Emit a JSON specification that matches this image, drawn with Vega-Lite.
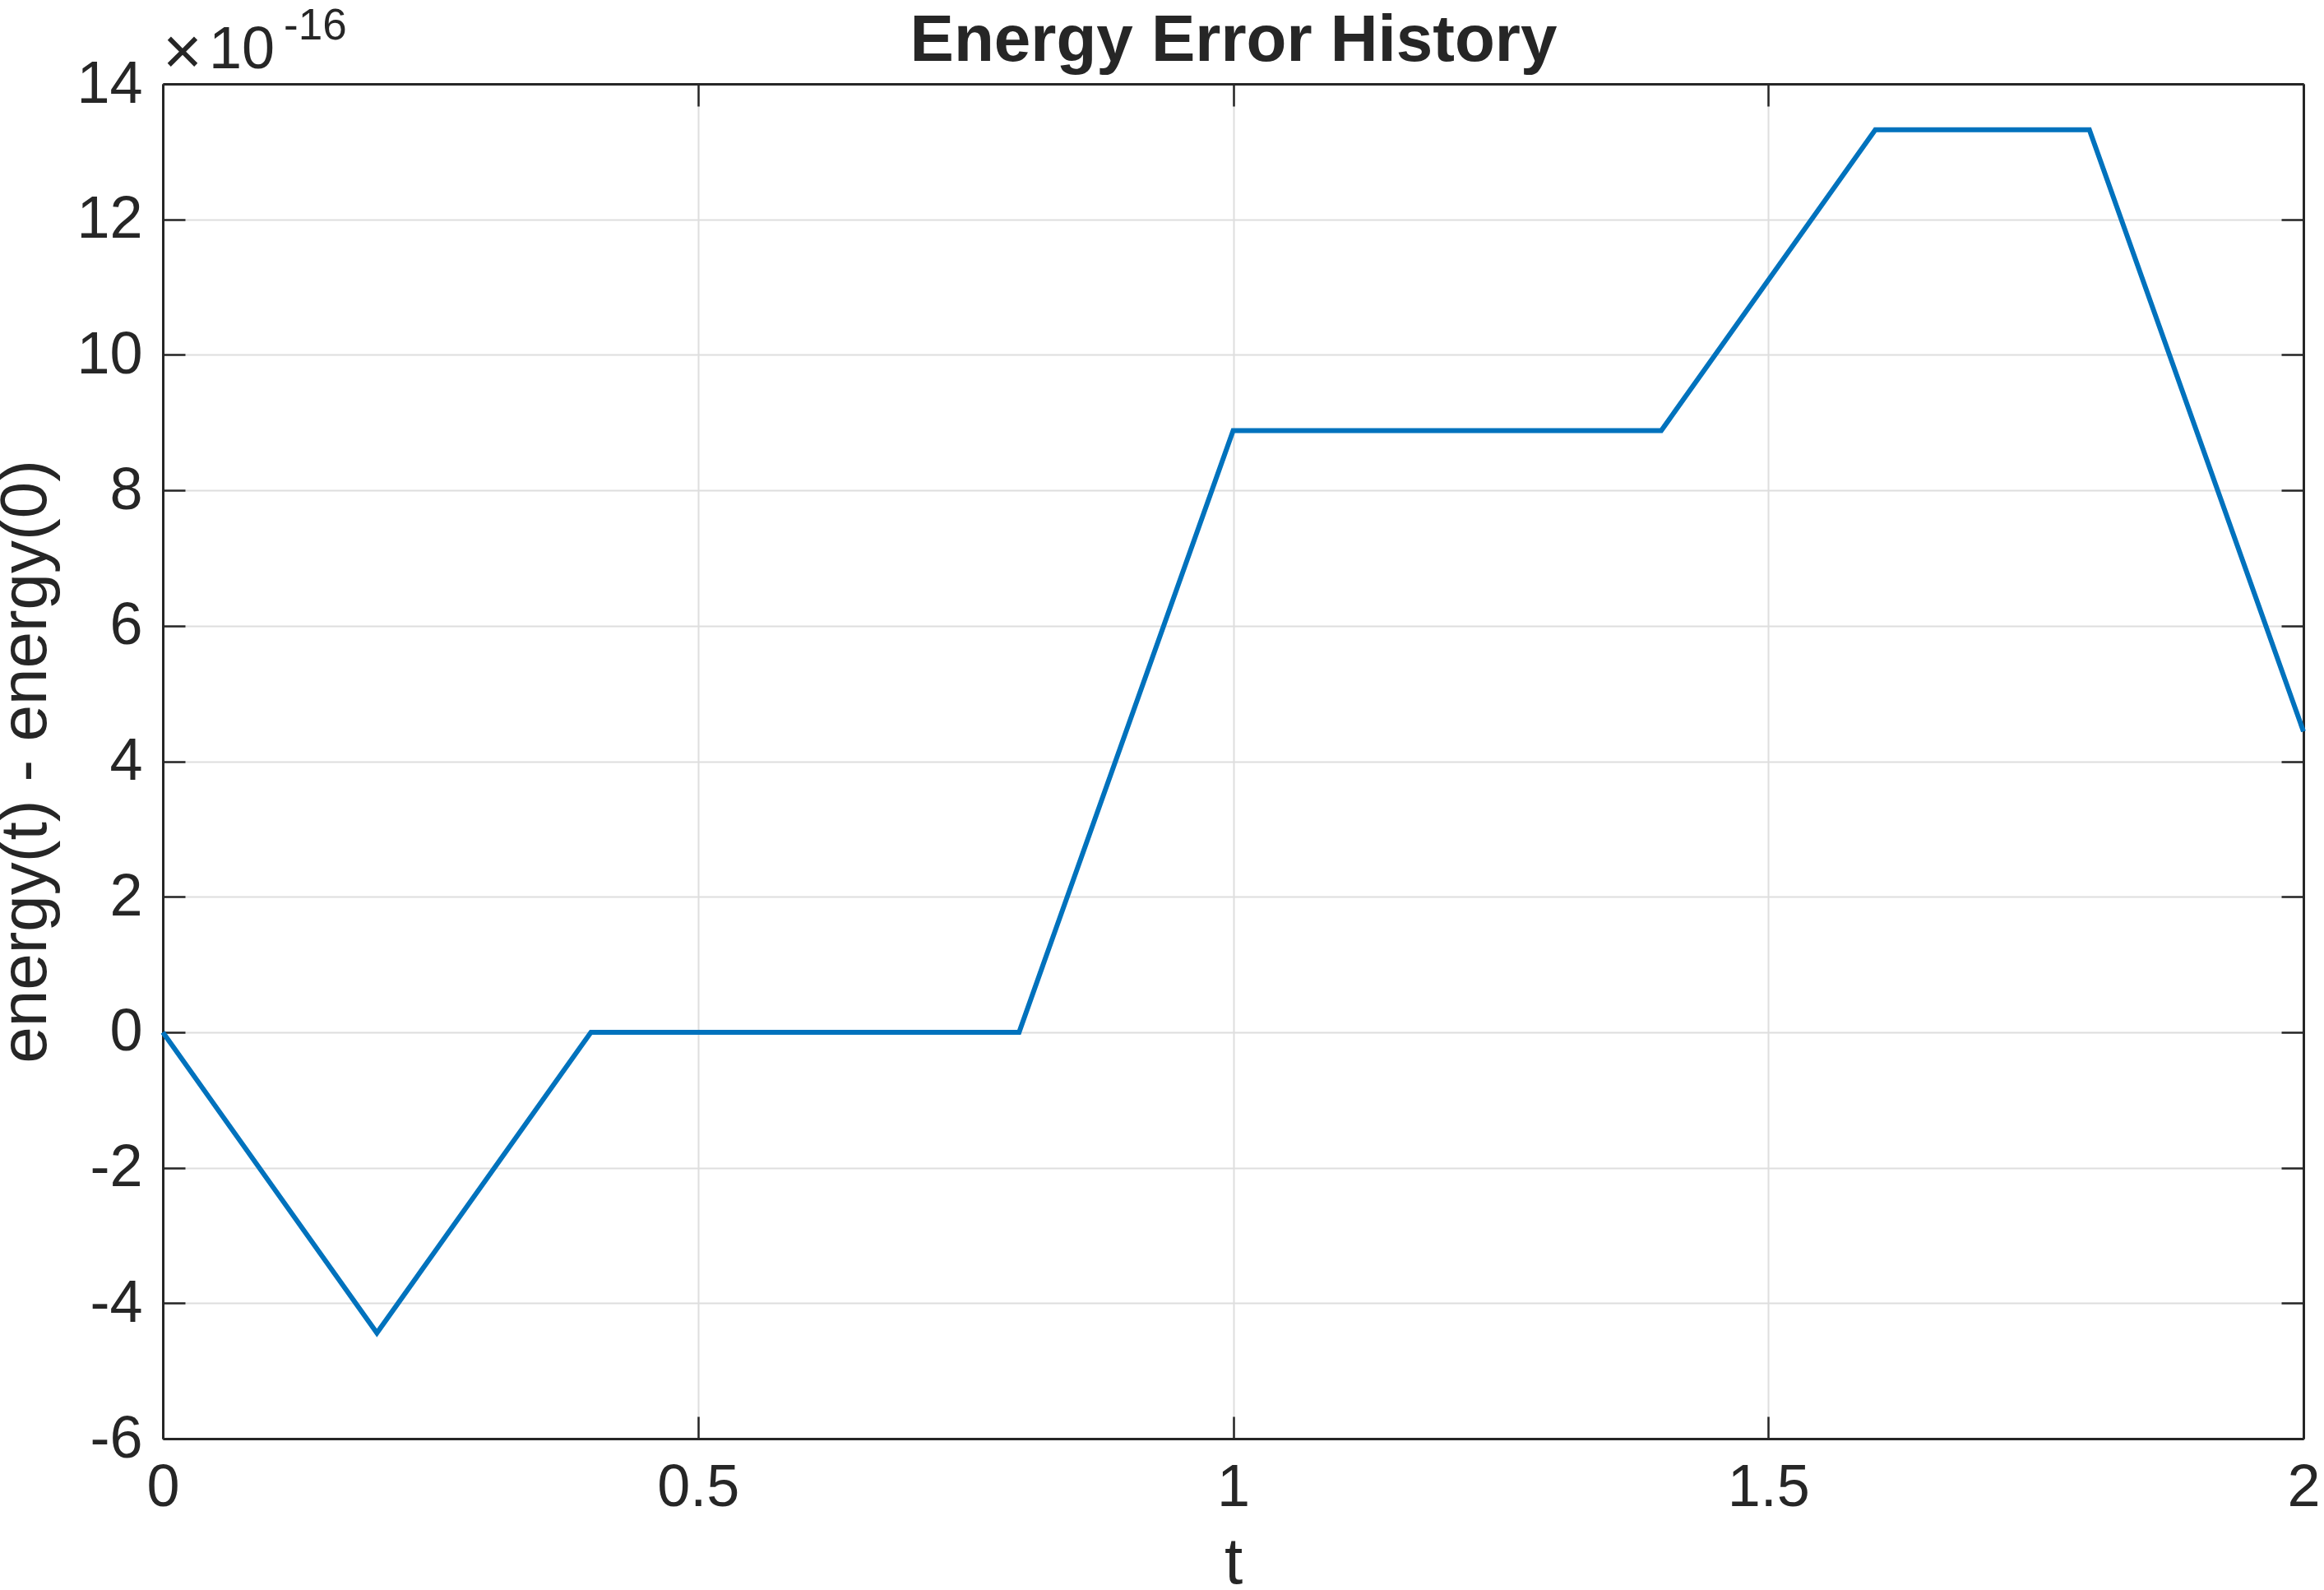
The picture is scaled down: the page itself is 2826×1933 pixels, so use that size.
{
  "$schema": "https://vega.github.io/schema/vega-lite/v6.json",
  "width": 2603,
  "height": 1647,
  "autosize": {"type": "none"},
  "padding": {"left": 198, "top": 102, "right": 25, "bottom": 184},
  "background": "white",
  "config": {"view": {"stroke": null}, "font": "Liberation Sans"},
  "data": {"values": [
    {"t": 0.0, "energy_error": 0},
    {"t": 0.2, "energy_error": -4.440892098500626e-16},
    {"t": 0.4, "energy_error": 0},
    {"t": 0.6, "energy_error": 0},
    {"t": 0.8, "energy_error": 0},
    {"t": 1.0, "energy_error": 8.881784197001252e-16},
    {"t": 1.2, "energy_error": 8.881784197001252e-16},
    {"t": 1.4, "energy_error": 8.881784197001252e-16},
    {"t": 1.6, "energy_error": 1.3322676295501878e-15},
    {"t": 1.8, "energy_error": 1.3322676295501878e-15},
    {"t": 2.0, "energy_error": 4.440892098500626e-16}
  ]},
  "resolve": {"axis": {"x": "independent", "y": "independent"}},
  "layer": [
    {
      "mark": {"type": "line", "opacity": 0},
      "encoding": {
        "x": {"field": "t", "type": "quantitative",
          "scale": {"domain": [0, 2], "nice": false, "zero": false},
          "axis": {"orient": "bottom", "values": [0.5, 1, 1.5], "labels": false, "ticks": false, "domain": false, "title": null,
            "grid": true, "gridColor": "#dedede", "gridWidth": 2}},
        "y": {"field": "energy_error", "type": "quantitative",
          "scale": {"domain": [-6e-16, 1.4e-15], "nice": false, "zero": false},
          "axis": {"orient": "left", "values": [-4e-16, -2e-16, 0, 2e-16, 4e-16, 6e-16, 8e-16, 1e-15, 1.2e-15], "labels": false, "ticks": false, "domain": false, "title": null,
            "grid": true, "gridColor": "#dedede", "gridWidth": 2}}
      }
    },
    {
      "mark": {"type": "line", "color": "#0072BD", "strokeWidth": 6},
      "encoding": {
        "x": {"field": "t", "type": "quantitative",
          "axis": {"orient": "bottom", "values": [0, 0.5, 1, 1.5, 2], "labelExpr": "'' + datum.value",
            "title": "t", "titleFont": "Liberation Sans", "titleFontSize": 80, "titleFontWeight": "normal", "titleColor": "#262626", "titleBaseline": "alphabetic", "titlePadding": 80,
            "labelFont": "Liberation Sans", "labelFontSize": 72, "labelColor": "#262626", "labelPadding": 51, "labelFlush": false, "labelOverlap": false, "labelBound": false,
            "tickSize": -27, "tickColor": "#262626", "tickWidth": 2.5,
            "domain": true, "domainColor": "#262626", "domainWidth": 3, "grid": false}},
        "y": {"field": "energy_error", "type": "quantitative",
          "axis": {"orient": "left", "values": [-6e-16, -4e-16, -2e-16, 0, 2e-16, 4e-16, 6e-16, 8e-16, 1e-15, 1.2e-15, 1.4e-15], "labelExpr": "'' + round(datum.value * 1e16)",
            "title": "energy(t) - energy(0)", "titleFont": "Liberation Sans", "titleFontSize": 80, "titleFontWeight": "normal", "titleColor": "#262626", "titleBaseline": "alphabetic", "titlePadding": 37,
            "labelFont": "Liberation Sans", "labelFontSize": 72, "labelColor": "#262626", "labelPadding": 52, "labelOverlap": false, "labelBound": false, "labelFlush": false,
            "tickSize": -27, "tickColor": "#262626", "tickWidth": 2.5,
            "domain": true, "domainColor": "#262626", "domainWidth": 3, "grid": false}}
      }
    },
    {
      "mark": {"type": "line", "opacity": 0},
      "encoding": {
        "x": {"field": "t", "type": "quantitative",
          "axis": {"orient": "top", "values": [0, 0.5, 1, 1.5, 2], "labels": false,
            "title": "Energy Error History", "titleFont": "Liberation Sans", "titleFontSize": 80, "titleFontWeight": "bold", "titleColor": "#262626", "titleBaseline": "alphabetic", "titlePadding": 27,
            "grid": false, "domain": true, "domainColor": "#262626", "domainWidth": 3, "tickSize": -27, "tickColor": "#262626", "tickWidth": 2.5}},
        "y": {"field": "energy_error", "type": "quantitative",
          "axis": {"orient": "right", "values": [-6e-16, -4e-16, -2e-16, 0, 2e-16, 4e-16, 6e-16, 8e-16, 1e-15, 1.2e-15, 1.4e-15], "labels": false, "title": null,
            "grid": false, "domain": true, "domainColor": "#262626", "domainWidth": 3, "tickSize": -27, "tickColor": "#262626", "tickWidth": 2.5}}
      }
    },
    {
      "data": {"values": [{"label": "×"}]},
      "mark": {"type": "text", "align": "left", "baseline": "alphabetic", "font": "Liberation Sans", "fontSize": 82, "fontWeight": 300, "color": "#262626", "dx": 0, "dy": -12},
      "encoding": {
        "x": {"datum": 0, "type": "quantitative", "axis": null},
        "y": {"datum": 1.4e-15, "type": "quantitative", "axis": null},
        "text": {"field": "label"}
      }
    },
    {
      "data": {"values": [{"label": "10"}]},
      "mark": {"type": "text", "align": "left", "baseline": "alphabetic", "font": "Liberation Sans", "fontSize": 72, "color": "#262626", "dx": 56, "dy": -19},
      "encoding": {
        "x": {"datum": 0, "type": "quantitative", "axis": null},
        "y": {"datum": 1.4e-15, "type": "quantitative", "axis": null},
        "text": {"field": "label"}
      }
    },
    {
      "data": {"values": [{"label": "-16"}]},
      "mark": {"type": "text", "align": "left", "baseline": "alphabetic", "font": "Liberation Sans", "fontSize": 53, "color": "#262626", "dx": 147, "dy": -54},
      "encoding": {
        "x": {"datum": 0, "type": "quantitative", "axis": null},
        "y": {"datum": 1.4e-15, "type": "quantitative", "axis": null},
        "text": {"field": "label"}
      }
    }
  ]
}
